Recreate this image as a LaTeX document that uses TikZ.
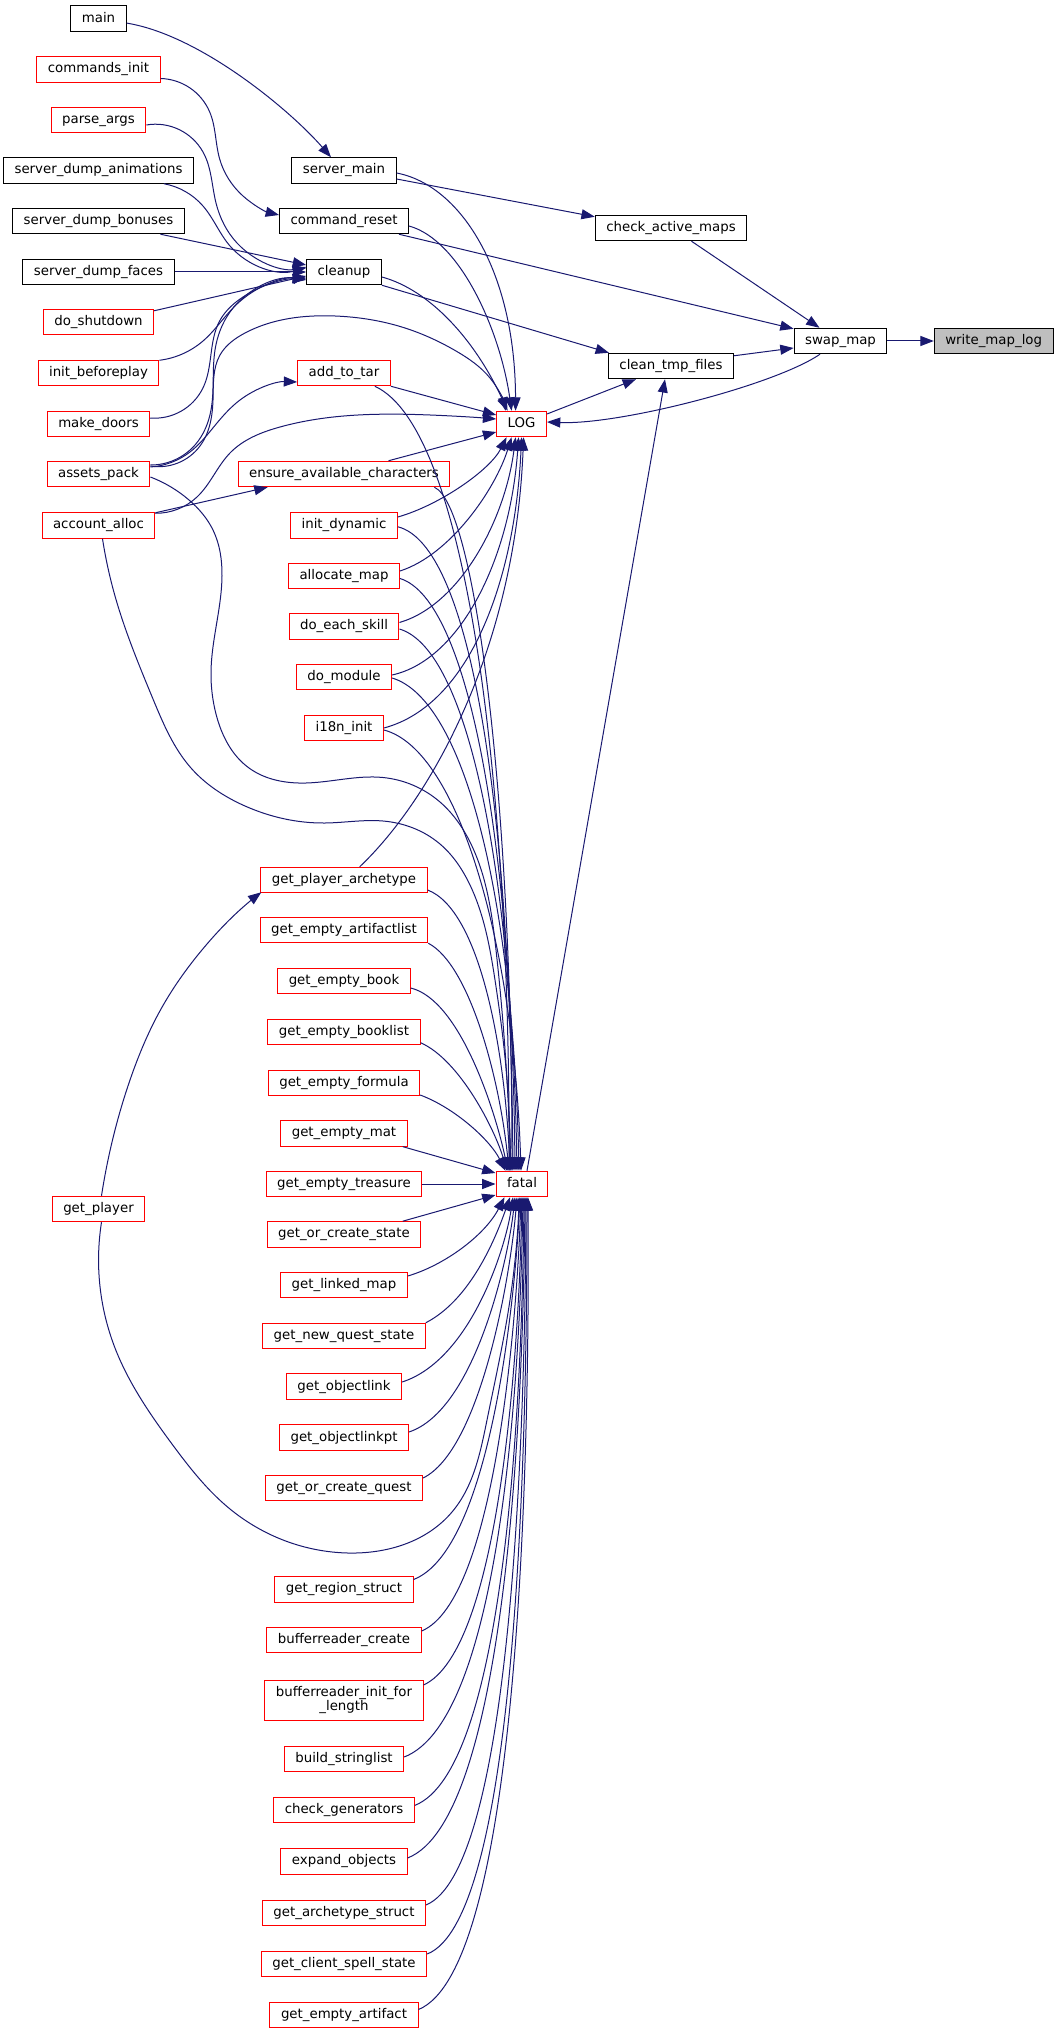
\documentclass[tikz,border=0pt]{standalone}
\usepackage{fontspec}
\setmainfont{DejaVu Sans}
\usetikzlibrary{arrows.meta,calc,hobby}
\definecolor{edgeblue}{RGB}{25,25,112}
\definecolor{nodegray}{RGB}{191,191,191}
\begin{document}
\begin{tikzpicture}[x=0.75pt,y=-0.75pt,
  fn/.style={draw=black, line width=0.75pt, fill=white, inner xsep=8.25pt, inner ysep=0pt,
    minimum height=19.1pt, text height=7.6pt, text depth=2.4pt, font=\fontsize{10pt}{12pt}\selectfont},
  rfn/.style={fn, draw=red},
  edge/.style={draw=edgeblue, line width=0.75pt, -{Triangle[length=10pt,width=7.5pt]}},
  hb/.style={edge, use Hobby shortcut}]
\useasboundingbox (0,0) rectangle (1059,2029);
% left column
\node[fn]  (main)  at (98.5,18.6)  {main};
\node[rfn] (cinit) at (98.5,69.5)  {commands\_init};
\node[rfn] (pargs) at (98.5,120)   {parse\_args};
\node[fn]  (sda)   at (98.5,170.5) {server\_dump\_animations};
\node[fn]  (sdb)   at (98.5,221)   {server\_dump\_bonuses};
\node[fn]  (sdf)   at (98.5,272)   {server\_dump\_faces};
\node[rfn] (dosh)  at (98.5,322)   {do\_shutdown};
\node[rfn] (ibp)   at (98.5,373)   {init\_beforeplay};
\node[rfn] (mkd)   at (98.5,424)   {make\_doors};
\node[rfn] (ap)    at (98.5,474)   {assets\_pack};
\node[rfn] (aa)    at (98.5,525.5) {account\_alloc};
\node[rfn] (gp)    at (98.5,1209)  {get\_player};
% middle column
\node[fn]  (sm)    at (344,170.5)  {server\_main};
\node[fn]  (cr)    at (344,221)    {command\_reset};
\node[fn]  (cu)    at (344,272)    {cleanup};
\node[rfn] (att)   at (344,373)    {add\_to\_tar};
\node[rfn] (eac)   at (344,474)    {ensure\_available\_characters};
\node[rfn] (idyn)  at (344,525.5)  {init\_dynamic};
\node[rfn] (am)    at (344,576)    {allocate\_map};
\node[rfn] (des)   at (344,626.5)  {do\_each\_skill};
\node[rfn] (dm)    at (344,677)    {do\_module};
\node[rfn] (i18n)  at (344,728)    {i18n\_init};
\node[rfn] (gpa)   at (344,880)    {get\_player\_archetype};
\node[rfn] (geal)  at (344,930)    {get\_empty\_artifactlist};
\node[rfn] (geb)   at (344,981)    {get\_empty\_book};
\node[rfn] (gebl)  at (344,1032)   {get\_empty\_booklist};
\node[rfn] (gef)   at (344,1083)   {get\_empty\_formula};
\node[rfn] (gem)   at (344,1133.4) {get\_empty\_mat};
\node[rfn] (get)   at (344,1184)   {get\_empty\_treasure};
\node[rfn] (gocs)  at (344,1234.4) {get\_or\_create\_state};
\node[rfn] (glm)   at (344,1285)   {get\_linked\_map};
\node[rfn] (gnqs)  at (344,1336)   {get\_new\_quest\_state};
\node[rfn] (gol)   at (344,1386.7) {get\_objectlink};
\node[rfn] (golp)  at (344,1437.6) {get\_objectlinkpt};
\node[rfn] (gocq)  at (344,1488)   {get\_or\_create\_quest};
\node[rfn] (grs)   at (344,1589.5) {get\_region\_struct};
\node[rfn] (brc)   at (344,1640)   {bufferreader\_create};
\node[rfn, text height={}, text depth={}, minimum height=30pt, align=center,
  font=\fontsize{10pt}{10.5pt}\selectfont] (brif) at (344,1700) {bufferreader\_init\_for\\\_length};
\node[rfn] (bsl)   at (344,1759)   {build\_stringlist};
\node[rfn] (cg)    at (344,1810)   {check\_generators};
\node[rfn] (eo)    at (344,1861.5) {expand\_objects};
\node[rfn] (gas)   at (344,1913)   {get\_archetype\_struct};
\node[rfn] (gcss)  at (344,1964)   {get\_client\_spell\_state};
\node[rfn] (gea)   at (344,2015)   {get\_empty\_artifact};
% hubs and right part
\node[rfn] (log)   at (521.6,424)  {LOG};
\node[rfn] (fatal) at (522,1184)   {fatal};
\node[fn]  (cam)   at (671,228)    {check\_active\_maps};
\node[fn]  (ctf)   at (671,366)    {clean\_tmp\_files};
\node[fn]  (swap)  at (840.5,341)  {swap\_map};
\node[fn, fill=nodegray] (wml) at (993.7,341) {write\_map\_log};

% right part edges
\draw[edge] (swap.east) -- (wml.west);
\draw[edge] ($(cam.south)+(20.5,0)$) -- ($(swap.north)+(-21,0)$);
\draw[edge] ($(cr.south east)+(-10,0)$) -- ($(swap.north west)+(0,1)$);
\draw[edge] ($(ctf.north east)+(0,3)$) -- ($(swap.west)+(0,7)$);
\draw[edge] ($(swap.south)+(-20.5,0)$) .. controls (775,385) and (620,425) .. ($(log.east)+(0,-2)$);
\draw[edge] ($(log.east)+(0,-10)$) -- ($(ctf.south west)+(28,0)$);
\draw[edge] ($(fatal.north)+(5,0)$) -- ($(ctf.south)+(-6,0)$);
\draw[edge] (cu.south east) -- ($(ctf.north west)+(1,0)$);
\draw[edge] ($(sm.east)+(0,8.5)$) -- ($(cam.north west)+(0,2)$);
\draw[edge] ($(main.east)+(0,4.5)$) .. controls (200,35) and (290,110) .. ($(sm.north)+(-13,0)$);
\draw[hb] ($(cinit.east)+(0,9)$) .. (209.5,111.5) .. (219.6,158.8) .. (243,196) .. ($(cr.west)+(0,-6)$);

% into cleanup
\draw[hb] ($(pargs.east)+(0,5)$) .. (203,152) .. (216,203) .. (237,243) .. ($(cu.west)+(0,-4)$);
\draw[hb] ($(sda.south)+(65.4,0)$) .. (203,206) .. (230,246) .. ($(cu.west)+(0,-5)$);
\draw[edge] ($(sdb.south)+(62,0)$) -- ($(cu.west)+(0,-7)$);
\draw[edge] (sdf.east) -- (cu.west);
\draw[edge] ($(dosh.north east)+(0,2)$) -- ($(cu.west)+(0,4)$);
\draw[hb] ($(ibp.north east)+(0,0.5)$) .. (203,341) .. (237,304) .. ($(cu.west)+(0,6)$);
\draw[hb] ($(mkd.east)+(0,-6)$) .. (202.7,388.5) .. (219.6,321) .. (243,297) .. ($(cu.west)+(0,7)$);
\draw[hb] ($(ap.east)+(0,-9)$) .. (195,445) .. (211,410) .. (215,350) .. (230,312) .. ($(cu.west)+(0,8)$);

% assets_pack / account_alloc
\draw[hb] ($(ap.east)+(0,-7)$) .. (190,452) .. (217,423) .. (240,400) .. ($(att.west)+(0,9)$);
\draw[hb] ($(ap.east)+(0,-8)$) .. (200,446) .. (213,400) .. (220,355) .. (245,333) .. (335,316) .. (405,328) .. (456,351) .. (490,378) .. ($(log.north)+(-16,0)$);
\draw[edge] ($(aa.north east)+(0,0.5)$) -- ($(eac.south west)+(30,0)$);
\draw[hb] ($(aa.north east)+(0,1)$) .. (197,497) .. (230,453) .. (280,427) .. (430,415) .. ($(log.west)+(0,-5)$);
\draw[hb] ($(aa.south)+(4,0)$) .. (115,596) .. (153,699) .. (191,768) .. (245,806) .. (325,823) .. (383,821) .. (440,844) .. (470,885) .. (495,980) .. (507,1080) .. ($(fatal.north)+(-12,0)$);
\draw[hb] ($(ap.east)+(0,3)$) .. (189,500) .. (213,530) .. (222,576) .. (211,672) .. (216,714) .. (249,768) .. (306,783) .. (383,777.5) .. (440,802) .. (471,844) .. (496,950) .. (507,1080) .. ($(fatal.north)+(-11,0)$);

% into LOG
\draw[edge] (att.south east) -- ($(log.west)+(0,-9)$);
\draw[edge] ($(eac.north)+(44.5,0)$) -- ($(log.west)+(0,8)$);
\draw[edge] ($(sm.east)+(0,2.5)$) .. controls (460,185) and (515,270) .. ($(log.north)+(-6,0)$);
\draw[edge] ($(cr.east)+(0,5)$) .. controls (460,240) and (500,330) .. ($(log.north)+(-10,0)$);
\draw[edge] ($(cu.east)+(0,5)$) .. controls (430,290) and (475,340) .. ($(log.north)+(-14,0)$);
\draw[edge] ($(idyn.east)+(0,-8.5)$) .. controls (440,505) and (490,470) .. ($(log.south)+(-15,0)$);
\draw[edge] ($(am.east)+(0,-5)$) .. controls (450,555) and (495,490) .. ($(log.south)+(-10,0)$);
\draw[edge] ($(des.east)+(0,-4)$) .. controls (460,605) and (505,520) .. ($(log.south)+(-6,0)$);
\draw[edge] ($(dm.east)+(0,-2)$) .. controls (460,660) and (510,560) .. ($(log.south)+(-3,0)$);
\draw[edge] (i18n.east) .. controls (470,705) and (515,580) .. (log.south);
\draw[edge] ($(gpa.north)+(15.7,0)$) .. controls (430,800) and (515,650) .. ($(log.south)+(2,0)$);

% into fatal from above
\draw[edge] ($(att.south east)+(-16,0)$) .. controls (470,430) and (510,800) .. ($(fatal.north)+(-13,0)$);
\draw[edge] ($(eac.south east)+(-16,0)$) .. controls (475,505) and (512,800) .. ($(fatal.north)+(-10,0)$);
\draw[edge] ($(idyn.east)+(0,1.3)$) .. controls (470,545) and (510,800) .. ($(fatal.north)+(-9,0)$);
\draw[edge] ($(am.east)+(0,2.5)$) .. controls (470,600) and (512,850) .. ($(fatal.north)+(-7,0)$);
\draw[edge] ($(des.east)+(0,2.5)$) .. controls (470,650) and (512,880) .. ($(fatal.north)+(-5,0)$);
\draw[edge] ($(dm.east)+(0,1)$) .. controls (465,700) and (513,900) .. ($(fatal.north)+(-3,0)$);
\draw[edge] ($(i18n.east)+(0,2)$) .. controls (460,750) and (514,950) .. ($(fatal.north)+(-1,0)$);
\draw[edge] ($(gpa.east)+(0,10)$) .. controls (480,910) and (505,1050) .. ($(fatal.north)+(-12,0)$);
\draw[edge] (geal.south east) .. controls (470,965) and (500,1080) .. ($(fatal.north)+(-13,0)$);
\draw[edge] ($(geb.east)+(0,7)$) .. controls (460,1000) and (495,1110) .. ($(fatal.north)+(-14,0)$);
\draw[edge] ($(gebl.east)+(0,10.7)$) .. controls (460,1060) and (495,1130) .. ($(fatal.north)+(-15,0)$);
\draw[edge] ($(gef.east)+(0,12)$) .. controls (455,1108) and (490,1140) .. ($(fatal.north west)+(10,0)$);
\draw[edge] ($(gem.south east)+(-5,0)$) -- ($(fatal.west)+(0,-11)$);
\draw[edge] (get.east) -- (fatal.west);
\draw[edge] ($(gocs.north east)+(-18.5,0)$) -- ($(fatal.west)+(0,11)$);

% into fatal from below
\draw[edge] ($(glm.east)+(0,-9)$) .. controls (445,1265) and (485,1235) .. ($(fatal.south west)+(9,0)$);
\draw[edge] (gnqs.north east) .. controls (470,1300) and (495,1240) .. ($(fatal.south)+(-12,0)$);
\draw[edge] ($(gol.east)+(0,-4.7)$) .. controls (470,1360) and (505,1250) .. ($(fatal.south)+(-9,0)$);
\draw[edge] ($(golp.east)+(0,-5.6)$) .. controls (475,1410) and (508,1260) .. ($(fatal.south)+(-7,0)$);
\draw[edge] ($(gocq.east)+(0,-10)$) .. controls (480,1450) and (510,1280) .. ($(fatal.south)+(-5,0)$);
\draw[hb] ($(gp.south)+(3,0)$) .. (115,1348) .. (172,1444) .. (230,1509) .. (348,1553) .. (452,1512) .. (487,1420) .. (510,1300) .. ($(fatal.south)+(-3,0)$);
\draw[hb] ($(gp.north)+(3,0)$) .. (115,1130) .. (130,1080) .. (161,1009) .. (207,944) .. (249,902) .. ($(gpa.south west)+(1,-1)$);
\draw[edge] ($(grs.east)+(0,-10)$) .. controls (490,1550) and (515,1300) .. ($(fatal.south)+(-2,0)$);
\draw[edge] ($(brc.east)+(0,-9)$) .. controls (495,1600) and (517,1320) .. ($(fatal.south)+(-1,0)$);
\draw[edge] ($(brif.east)+(0,-15)$) .. controls (500,1650) and (519,1350) .. (fatal.south);
\draw[edge] ($(bsl.east)+(0,-2)$) .. controls (500,1720) and (520,1380) .. ($(fatal.south)+(1,0)$);
\draw[edge] ($(cg.east)+(0,-4.6)$) .. controls (505,1770) and (522,1400) .. ($(fatal.south)+(2,0)$);
\draw[edge] ($(eo.east)+(0,-3.5)$) .. controls (505,1820) and (523,1420) .. ($(fatal.south)+(3,0)$);
\draw[edge] ($(gas.east)+(0,-8)$) .. controls (510,1870) and (525,1450) .. ($(fatal.south)+(4,0)$);
\draw[edge] ($(gcss.east)+(0,-10)$) .. controls (515,1920) and (527,1470) .. ($(fatal.south)+(5,0)$);
\draw[edge] ($(gea.east)+(0,-5.5)$) .. controls (515,1970) and (530,1500) .. ($(fatal.south)+(6,0)$);
\end{tikzpicture}
\end{document}
